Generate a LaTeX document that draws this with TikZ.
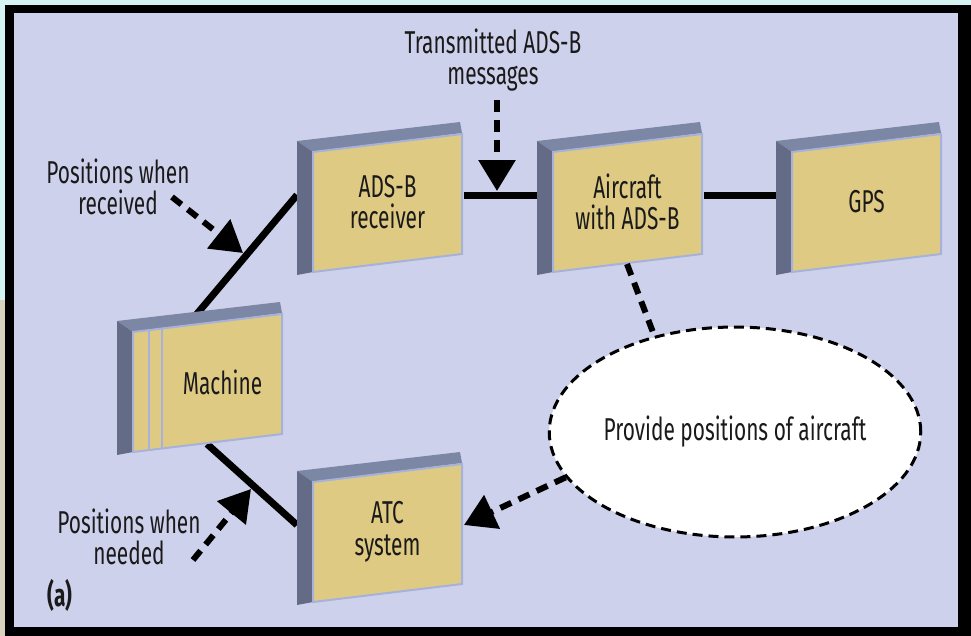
\documentclass[tikz,border=0pt]{standalone}
\usepackage{fontspec}
\setmainfont{Fira Sans}[FakeStretch=0.66]
\usetikzlibrary{arrows.meta,backgrounds,shapes.geometric}
\definecolor{lavender}{HTML}{CED1EB}
\definecolor{outercyan}{HTML}{D6F3F3}
\definecolor{outersand}{HTML}{D9D3BE}
\definecolor{boxface}{HTML}{DFCA83}
\definecolor{boxrim}{HTML}{A6B2DA}
\definecolor{boxtop}{HTML}{7C86A5}
\definecolor{boxside}{HTML}{636B86}
\definecolor{inktext}{HTML}{1A1A1A}
\tikzset{
  lbl/.style={font=\fontsize{18}{18}\selectfont, text=inktext, align=center, inner sep=0pt},
  wire/.style={line width=0.14cm},
  dashlink/.style={line width=0.12cm, dash pattern=on 0.24cm off 0.16cm},
  dasharrow/.style={dashlink, -{Triangle[length=0.62cm,width=0.72cm]}},
  goalellipse/.style={ellipse, draw, fill=white, line width=0.06cm,
    dash pattern=on 0.2cm off 0.12cm, minimum width=7.2cm, minimum height=4.2cm, inner sep=0pt}
}
\newcommand{\unitbox}[5][74.5]{%
  \begin{scope}[shift={(#3,#4)}]
    \fill[boxtop] (-16,-11) -- (147,-30) -- (149,-19) -- (0,0) -- cycle;
    \fill[boxside] (-16,-11) -- (0,0) -- (0,120) -- (-16,123) -- cycle;
    \filldraw[fill=boxface, draw=boxrim, line width=0.04cm] (0,0) -- (149,-18) -- (149,102) -- (0,120) -- cycle;
    \node[lbl] (#2) at (#1,50) {#5};
    \coordinate (#2-w) at (-16,43);
    \coordinate (#2-e) at (151,43);
    \coordinate (#2-n) at (63,-17);
    \coordinate (#2-s) at (74,112);
  \end{scope}}
\begin{document}
\begin{tikzpicture}[x=0.02cm,y=-0.02cm]
\useasboundingbox (0,0) rectangle (971,636);
\unitbox{rcv}{313}{152}{ADS-B\\receiver}
\unitbox{air}{553}{152}{Aircraft\\with ADS-B}
\unitbox{gps}{792}{152}{GPS}
\unitbox[89.5]{mach}{133}{332}{Machine}
\unitbox{atc}{313}{482}{ATC\\system}
\draw[boxrim, line width=0.05cm] (149,330) -- (149,450);
\draw[boxrim, line width=0.05cm] (162,328.5) -- (162,448.5);
\node[goalellipse, font=\fontsize{18}{18}\selectfont, text=inktext] (prov) at (735,432) {Provide positions of aircraft};
\node[lbl] (msglbl) at (493,60) {Transmitted ADS-B\\messages};
\node[lbl] (rcvlbl) at (118,187) {Positions when\\received};
\node[lbl] (needlbl) at (129,537) {Positions when\\needed};
\node[lbl, font=\fontsize{18}{18}\selectfont\bfseries] (fig) at (60,595) {(a)};
\coordinate (msgtail) at (497,100);
\coordinate (msgtip) at (497,191);
\coordinate (rcvtail) at (172,197);
\coordinate (rcvtip) at (243,253);
\coordinate (needtail) at (193,560);
\coordinate (needtip) at (251,489);
\begin{pgfonlayer}{background}
\fill[outercyan] (0,0) rectangle (971,636);
\fill[outersand] (0,300) rectangle (5,636);
\fill[black] (5,5) rectangle (971,636);
\fill[lavender] (14,13) rectangle (958,627);
\draw[wire] (rcv-e) -- (air-w);
\draw[wire] (air-e) -- (gps-w);
\draw[wire] (mach-n) -- (rcv-w);
\draw[wire] (mach-s) -- (atc-w);
\end{pgfonlayer}
\draw[dasharrow] (msgtail) -- (msgtip);
\draw[dasharrow] (rcvtail) -- (rcvtip);
\draw[dasharrow] (needtail) -- (needtip);
\draw[dashlink] (air-s) -- (prov.130);
\draw[dasharrow] (prov.195) -- (atc-e);
\end{tikzpicture}
\end{document}
